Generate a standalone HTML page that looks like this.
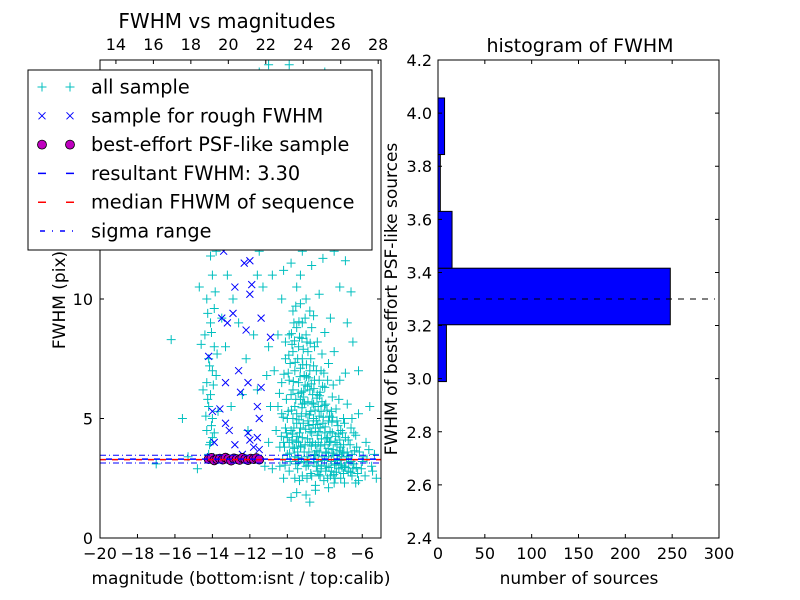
<!DOCTYPE html>
<html><head><meta charset="utf-8">
<style>
body{margin:0;background:#fff;}
svg{display:block;font-family:"DejaVu Sans","Liberation Sans",sans-serif;}
</style></head>
<body>
<svg id="c" width="800" height="600" viewBox="0 0 800 600">
<rect x="0" y="0" width="800" height="600" fill="#fff"/>
<g id="left"></g>
<g id="right"></g>
</svg>
<script>
const cyanPts=[[-14.2,3.5],[-14.1,4],[-14.3,4.5],[-14.0,5],[-14.2,5.5],[-14.1,6],[-14.3,6.5],[-14.0,7],[-14.2,7.5],[-13.9,8],[-14.4,8.5],[-14.1,9],[-14.3,10],[-14.0,11],[-13.8,12],[-14.2,13],[-13.6,14],[-14.5,6.2],[-13.8,6.8],[-14.6,8.1],[-13.9,9.6],[-14.0,4.2],[-13.7,5.3],[-13.5,9.2],[-14.7,10.5],
[-13.2,11],[-12.8,12.5],[-12.5,13.5],[-13,15],[-12.3,16],[-11.8,14.5],[-12.9,10],[-12.6,9],[-13.3,8],[-12.2,7.5],[-13.1,17],[-12,18.5],[-11.5,19.5],[-12.7,19],[-13.5,16.5],[-11.2,17],[-10.9,15],[-11.5,12],[-11.3,10.5],[-11.8,8.5],[-12.4,6],[-13.0,5.5],[-12.1,4.5],[-11.6,6.2],[-11.0,8],[-10.8,11],[-10.5,13],[-10.2,16],[-9.8,18],[-9.5,14],[-9.2,12],[-9.0,19],[-8.5,17],[-8.2,13.5],[-7.8,16],[-7.5,12],[-7.2,10.5],[-6.8,9],[-6.5,8.2],[-7.0,14],[-8.8,15.5],[-9.9,19.8],[-11.0,19.8],[-8.0,19.5],
[-10.4,3],[-10.2,4],[-10.0,5],[-9.8,6],[-9.6,7],[-9.4,8],[-9.2,9],[-9.0,10],[-10.3,6.5],[-10.1,7.5],[-9.9,8.5],[-9.7,9.5],[-9.5,10.5],[-9.3,11],[-10.5,5.5],[-10.0,3.5],[-9.8,4.5],[-9.6,5.5],[-9.4,6.5],[-9.2,7.5],[-9.0,8.5],[-8.8,9.5],[-9.9,2.8],[-9.7,3.8],[-9.5,4.8],[-9.3,5.8],[-9.1,6.8],[-8.9,7.8],[-8.7,8.8],[-9.4,3.2],[-9.2,4.2],[-9.0,5.2],[-8.8,6.2],[-8.6,7.2],[-8.4,8.2],[-9.0,3.0],[-8.8,4.0],[-8.6,5.0],[-8.4,6.0],[-8.2,7.0],[-8.6,3.3],[-8.4,4.3],[-8.2,5.3],[-8.0,6.3],[-7.8,7.3],[-8.2,2.9],[-8.0,3.9],[-7.8,4.9],[-7.6,5.9],[-7.8,3.4],[-7.6,4.4],[-7.4,5.4],[-7.4,3.1],[-7.2,4.1],[-7.0,5.0],[-7.0,2.7],[-6.8,3.6],[-6.6,4.6],[-6.5,2.9],[-6.3,3.8],[-6.0,3.2],[-5.8,4.0],[-5.5,3.0],[-6.2,2.4],[-7.5,2.3],[-8.5,2.2],[-9.5,1.9],[-9.8,1.7],[-8.8,1.5],[-10.2,2.5],[-10.6,4.5],[-10.7,7],[-10.5,8.5],[-10.3,10],[-9.1,3.6],[-8.3,3.6],[-7.1,3.4],[-9.6,2.5],[-8.7,2.6],[-7.7,2.6],[-9.3,4.6],[-8.5,4.6],[-7.3,4.7],[-9.5,5.2],[-8.1,4.8],[-6.9,4.2],[-9.7,6.2],[-8.9,5.7],[-8.3,6.6],[-10.1,8.2],[-9.5,8.8],[-8.6,9.3],[-9.3,9.8],[-8.0,8.6],[-7.5,7.8],[-7.2,6.6],[-6.8,5.6],[-6.2,5.2],[-5.6,5.5],[-6.9,6.9],[-7.7,9.2],[-8.3,10.2],[-9.8,11.5],[-10.0,12.5],[-9.4,13],[-8.7,11.4],
[-9.6,3.4],[-9.2,2.6],[-8.9,3.2],[-8.4,2.8],[-7.9,3.0],[-9.9,4.0],[-9.4,4.0],[-8.7,4.4],[-8.0,4.4],[-10.1,4.6],[-9.7,5.0],[-8.9,4.9],[-8.3,5.1],[-10.3,5.2],[-9.2,5.6],[-8.6,5.6],[-9.9,6.6],[-9.3,7.1],[-8.8,7.0],[-9.7,7.8],[-10.4,3.8],[-10.0,4.2],[-7.0,3.9],[-6.6,3.2],[-9.3,3.8],[-8.5,3.9],
[-17,3.1],[-16.2,8.3],[-15.6,5],[-15.3,3.4],[-14.8,2.9],[-11.2,3.0],[-10.8,2.9],[-11.0,4.0],[-10.9,5.5],[-11.1,6.8]];
const cyanCore=[[-9.55,3.1],[-9.45,3.6],[-9.35,4.4],[-9.25,5.1],[-9.15,5.9],[-9.05,6.4],[-8.95,3.4],[-8.85,4.7],[-8.75,5.3],[-8.65,6.0],[-8.55,6.6],[-8.45,3.0],[-8.35,4.0],[-8.25,4.6],[-8.15,5.7],[-8.05,6.9],[-7.95,3.6],[-7.85,4.2],[-7.75,5.1],[-7.65,3.2],[-7.55,3.7],[-7.45,4.0],[-7.35,3.5],[-7.25,2.9],[-7.15,3.8],[-7.05,4.4],[-6.95,3.0],[-6.85,3.3],[-6.75,2.8],[-6.65,3.9],[-6.55,3.5],[-6.45,3.1],[-6.35,4.3],[-6.25,2.7],[-6.15,3.6],[-6.05,2.9],[-5.95,3.4],[-5.85,2.6],[-5.75,3.3],[-5.65,3.7],[-5.45,2.8],[-5.35,3.5],[-5.25,2.5],
[-10.05,5.8],[-9.95,6.9],[-9.85,7.3],[-9.75,8.1],[-9.65,9.0],[-9.55,9.7],[-9.45,7.5],[-9.35,8.4],[-9.25,6.1],[-9.15,7.9],[-9.05,9.2],[-8.95,8.2],[-8.85,6.7],[-8.75,7.5],[-8.55,8.0],[-8.45,7.0],[-8.35,5.5],[-8.25,6.1],[-8.15,7.7],[-7.95,5.6],[-7.85,6.6],[-7.65,5.3],[-7.55,6.4],[-7.35,4.9],[-7.25,5.8],[-7.15,4.5],[-6.95,4.8],[-6.75,4.1],[-6.55,5.0],[-6.45,4.4],
[-10.25,3.3],[-10.15,3.8],[-10.05,4.4],[-9.95,5.3],[-9.85,3.2],[-9.75,4.1],[-9.65,4.6],[-9.55,5.8],[-9.45,2.9],[-9.35,2.4],[-9.25,3.3],[-9.15,4.8],[-9.05,3.9],[-8.95,2.5],[-8.85,3.6],[-8.75,2.7],[-8.65,4.0],[-8.55,3.5],[-8.45,4.9],[-8.35,3.2],[-8.25,2.6],[-8.15,3.4],[-8.05,2.4],[-7.95,2.8],[-7.85,2.5],[-7.75,4.0],[-7.65,2.8],[-7.45,2.5],[-7.35,3.9],[-7.15,2.5],[-6.95,2.3],[-6.75,3.4],[-6.55,2.6],[-6.35,2.3],[-7.05,3.6],[-8.5,2.0],[-9.0,1.8],[-7.8,2.1],
[-14.15,3.9],[-14.05,4.7],[-14.25,5.8],[-13.95,6.4],[-14.15,7.2],[-14.05,8.6],[-14.25,9.4],[-13.85,10.3],[-14.1,11.8],[-13.75,7.7],[-14.35,5.1],[-13.9,4.4],
[-12.2,14.8],[-11.6,13.2],[-12.9,13.8],[-11.9,16.5],[-10.6,17.8],[-12.4,17.5],[-13.6,18],[-9.6,16.8],[-8.7,18.2],[-7.4,17.5],[-6.9,11.6],[-6.2,7.0],[-10.6,14.3],[-11.3,18.6],[-9.1,14.9],[-7.9,14.6],[-8.1,11.7],[-10.2,11.2],[-12.6,15.6],[-11.6,11.0],[-7.3,13.0],[-6.6,10.3]];
const cyanDense=[[-9.62,3.75],[-9.48,4.25],[-9.38,4.95],[-9.22,5.45],[-9.12,6.15],[-8.98,6.75],[-8.92,4.15],[-8.78,4.45],[-8.68,5.65],[-8.58,6.25],[-8.48,3.45],[-8.38,4.75],[-8.28,5.95],[-8.18,4.15],[-8.08,5.05],[-7.98,4.65],[-7.88,5.35],[-7.72,4.45],[-7.62,4.85],[-7.52,3.45],[-7.42,4.25],[-7.32,3.25],[-7.22,3.65],[-7.12,3.05],[-6.98,3.55],[-6.88,2.95],[-6.72,3.15],[-6.62,2.75],[-6.42,3.65],[-6.32,2.95],
[-9.78,5.35],[-9.68,6.55],[-9.58,7.35],[-9.42,6.05],[-9.32,6.75],[-9.18,7.25],[-9.08,5.65],[-8.92,6.35],[-8.82,5.15],[-8.72,6.45],[-8.62,4.75],[-8.52,5.35],[-8.42,5.85],[-8.32,4.45],[-8.22,3.85],[-8.12,6.35],[-8.02,5.55],[-7.92,4.15],[-7.82,3.75],[-7.68,4.05],[-7.58,5.05],[-7.48,3.05],[-7.38,2.75],[-7.28,4.35],[-7.18,3.25],[-7.08,2.95],[-9.88,3.55],[-9.72,4.35],[-9.52,4.05],[-9.42,3.35],[-9.28,3.85],[-9.12,3.15],[-9.02,4.55],[-8.88,3.05],[-8.72,3.85],[-8.58,3.15],[-8.42,3.65],[-8.32,2.65],[-8.18,3.05],[-8.02,3.25],[-7.92,3.55],[-7.78,2.95],[-7.62,3.55],[-7.52,2.65],
[-10.12,3.05],[-10.32,4.25],[-10.22,5.05],[-10.42,6.05],[-10.18,6.85],[-9.92,7.65],[-9.78,8.55],[-9.62,8.25],[-9.38,9.05],[-9.22,8.35],[-8.98,7.25],[-8.78,8.15]];
const bluePts=[[-14.1,3.4],[-13.9,4.0],[-14.0,5.3],[-13.6,5.4],[-14.2,7.6],[-13.3,6.5],[-13.5,9.2],[-13.2,9.0],[-12.8,10.5],[-12.9,9.4],[-13.0,12.5],[-12.7,13.0],[-12.3,11.5],[-12.0,11.6],[-12.0,10.2],[-12.2,8.7],[-12.4,12.2],[-11.9,10.6],[-12.6,7.0],[-12.5,6.1],[-12.1,6.5],[-12.1,4.4],[-12.0,4.1],[-11.8,3.8],[-11.6,5.5],[-11.5,5.0],[-11.6,4.2],[-11.5,3.7],[-12.4,3.5],[-12.8,3.9],[-13.1,4.5],[-13.3,4.8],[-11.4,6.3],[-12.3,12.8],[-13.4,12],[-11.4,9.2],[-10.9,8.4],[-11.7,13.9]];
const magX=[-14.2,-14.05,-13.9,-13.75,-13.6,-13.45,-13.3,-13.15,-13.0,-12.85,-12.7,-12.55,-12.4,-12.25,-12.1,-11.95,-11.8,-11.65,-11.5];
const magY=[3.3,3.35,3.25,3.3,3.32,3.28,3.36,3.3,3.24,3.33,3.3,3.27,3.35,3.3,3.26,3.32,3.3,3.34,3.28];
const resultFWHM=3.30, medianFWHM=3.28, sigmaLo=3.14, sigmaHi=3.46;
const binEdges=[2.989,3.203,3.416,3.630,3.844,4.057];
const binCounts=[9,248,15,2.5,7];
const xTicksL=[-20,-18,-16,-14,-12,-10,-8,-6];
const yTicksL=[0,5,10];
const topTicks=[14,16,18,20,22,24,26,28];
const xTicksR=[0,50,100,150,200,250,300];
const yTicksR=[2.4,2.6,2.8,3.0,3.2,3.4,3.6,3.8,4.0,4.2];

const NS="http://www.w3.org/2000/svg";
function mk(p,t,a,txt){const e=document.createElementNS(NS,t);for(const k in a)e.setAttribute(k,a[k]);if(txt!==undefined)e.textContent=txt;p.appendChild(e);return e;}
const L=document.getElementById('left'),R=document.getElementById('right');
const lx0=100,lx1=381,ly0=538,ly1=60;
const sx=v=>lx0+(v+20)/15*(lx1-lx0);
const sy=v=>ly0-v/20*(ly0-ly1);
const topOff=33.15;
const stx=v=>sx(v-topOff);
const clip=mk(L,'clipPath',{id:'lc'});mk(clip,'rect',{x:lx0,y:ly1,width:lx1-lx0,height:ly0-ly1});
let g=mk(L,'g',{'clip-path':'url(#lc)'});


cyanPts.concat(cyanCore,cyanDense).forEach(p=>{const x=sx(p[0]),y=sy(p[1]);mk(g,'path',{d:`M${x-4.5},${y}H${x+4.5}M${x},${y-4.5}V${y+4.5}`,stroke:'#00bfbf','stroke-width':1});});
g=mk(L,'g',{});


bluePts.forEach(p=>{const x=sx(p[0]),y=sy(p[1]);mk(g,'path',{d:`M${x-3.5},${y-3.5}L${x+3.5},${y+3.5}M${x-3.5},${y+3.5}L${x+3.5},${y-3.5}`,stroke:'#0000ff','stroke-width':1});});
g=mk(L,'g',{});


magX.forEach((v,i)=>mk(g,'circle',{cx:sx(v),cy:sy(magY[i]),r:4.5,fill:'#bf00bf',stroke:'#000','stroke-width':0.8}));
let ln=mk(L,'line',{x1:lx0,x2:lx1,y1:sy(sigmaHi),y2:sy(sigmaHi),stroke:'#0000ff','stroke-dasharray':'6 3 1 3'});

ln=mk(L,'line',{x1:lx0,x2:lx1,y1:sy(sigmaLo),y2:sy(sigmaLo),stroke:'#0000ff','stroke-dasharray':'6 3 1 3'});

ln=mk(L,'line',{x1:lx0,x2:lx1,y1:sy(medianFWHM),y2:sy(medianFWHM),stroke:'#ff0000','stroke-width':1.5,'stroke-dasharray':'6 6'});

ln=mk(L,'line',{x1:lx0,x2:lx1,y1:sy(resultFWHM),y2:sy(resultFWHM),stroke:'#0000ff','stroke-width':1.5,'stroke-dasharray':'6 6','stroke-dashoffset':6});

mk(L,'rect',{x:lx0,y:ly1,width:lx1-lx0,height:ly0-ly1,fill:'none',stroke:'#000'});
xTicksL.forEach(t=>{const x=sx(t);mk(L,'path',{d:`M${x},${ly0}v-4`,stroke:'#000'});const e=mk(L,'text',{x:x,y:559,'font-size':16,'text-anchor':'middle'},t<0?'\u2212'+(-t):t);});
topTicks.forEach(t=>{const x=stx(t);mk(L,'path',{d:`M${x},${ly1}v4`,stroke:'#000'});const e=mk(L,'text',{x:x,y:50,'font-size':16,'text-anchor':'middle'},t);});
yTicksL.forEach(t=>{const y=sy(t);mk(L,'path',{d:`M${lx0},${y}h4M${lx1},${y}h-4`,stroke:'#000'});const e=mk(L,'text',{x:93,y:y+6,'font-size':16,'text-anchor':'end'},t);});
let t=mk(L,'text',{x:227,y:28,'font-size':20,'text-anchor':'middle'},'FWHM vs magnitudes');
t=mk(L,'text',{x:241,y:584,'font-size':17,'text-anchor':'middle'},'magnitude (bottom:isnt / top:calib)');
t=mk(L,'text',{x:0,y:0,'font-size':17,'text-anchor':'middle',transform:'translate(65,300) rotate(-90)'},'FWHM (pix)');
const lg=mk(L,'g',{});


mk(lg,'rect',{x:28,y:70,width:344,height:180,fill:'#fff',stroke:'#000'});
const labels=['all sample','sample for rough FWHM','best-effort PSF-like sample','resultant FWHM: 3.30','median FHWM of sequence','sigma range'];
labels.forEach((s,i)=>{const y=87+i*28.8;
 const ge=mk(lg,'g',{});
 
 
 [42,70].forEach(x=>{
  if(i==0)mk(ge,'path',{d:`M${x-4.5},${y}H${x+4.5}M${x},${y-4.5}V${y+4.5}`,stroke:'#00bfbf'});
  if(i==1)mk(ge,'path',{d:`M${x-3.5},${y-3.5}L${x+3.5},${y+3.5}M${x-3.5},${y+3.5}L${x+3.5},${y-3.5}`,stroke:'#0000ff'});
  if(i==2)mk(ge,'circle',{cx:x,cy:y,r:4.5,fill:'#bf00bf',stroke:'#000','stroke-width':0.8});
 });
 if(i==3)mk(ge,'path',{d:`M38,${y}h8M66,${y}h8`,stroke:'#0000ff','stroke-width':1.5});
 if(i==4)mk(ge,'path',{d:`M38,${y}h8M66,${y}h8`,stroke:'#ff0000','stroke-width':1.5});
 if(i==5)mk(ge,'path',{d:`M40,${y}h5M52,${y}h1M60,${y}h5M72,${y}h1`,stroke:'#0000ff','stroke-width':1.5});
 mk(ge,'text',{x:91,y:y+6.5,'font-size':19.3},s);
});
const rx0=438,rx1=719,ry0=538,ry1=60;
const hx=v=>rx0+v/300*(rx1-rx0);
const hy=v=>ry0-(v-2.4)/1.8*(ry0-ry1);
binCounts.forEach((c,i)=>{const b=mk(R,'rect',{x:rx0,y:hy(binEdges[i+1]),width:hx(c)-rx0,height:hy(binEdges[i])-hy(binEdges[i+1]),fill:'#0000ff',stroke:'#000'});});
ln=mk(R,'line',{x1:rx0,x2:rx1-4,y1:hy(resultFWHM),y2:hy(resultFWHM),stroke:'#000','stroke-dasharray':'6 6'});

mk(R,'rect',{x:rx0,y:ry1,width:rx1-rx0,height:ry0-ry1,fill:'none',stroke:'#000'});
xTicksR.forEach(v=>{const x=hx(v);mk(R,'path',{d:`M${x},${ry0}v-4M${x},${ry1}v4`,stroke:'#000'});const e=mk(R,'text',{x:x,y:559,'font-size':16,'text-anchor':'middle'},v);});
yTicksR.forEach(v=>{const y=hy(v);mk(R,'path',{d:`M${rx0},${y}h4M${rx1},${y}h-4`,stroke:'#000'});const e=mk(R,'text',{x:432,y:y+6,'font-size':16,'text-anchor':'end'},v.toFixed(1));});
t=mk(R,'text',{x:580,y:52,'font-size':19,'text-anchor':'middle'},'histogram of FWHM');
t=mk(R,'text',{x:579,y:584,'font-size':17,'text-anchor':'middle'},'number of sources');
t=mk(R,'text',{x:0,y:0,'font-size':17,'text-anchor':'middle',transform:'translate(397,299) rotate(-90)'},'FWHM of best-effort PSF-like sources');
</script>
</body></html>
